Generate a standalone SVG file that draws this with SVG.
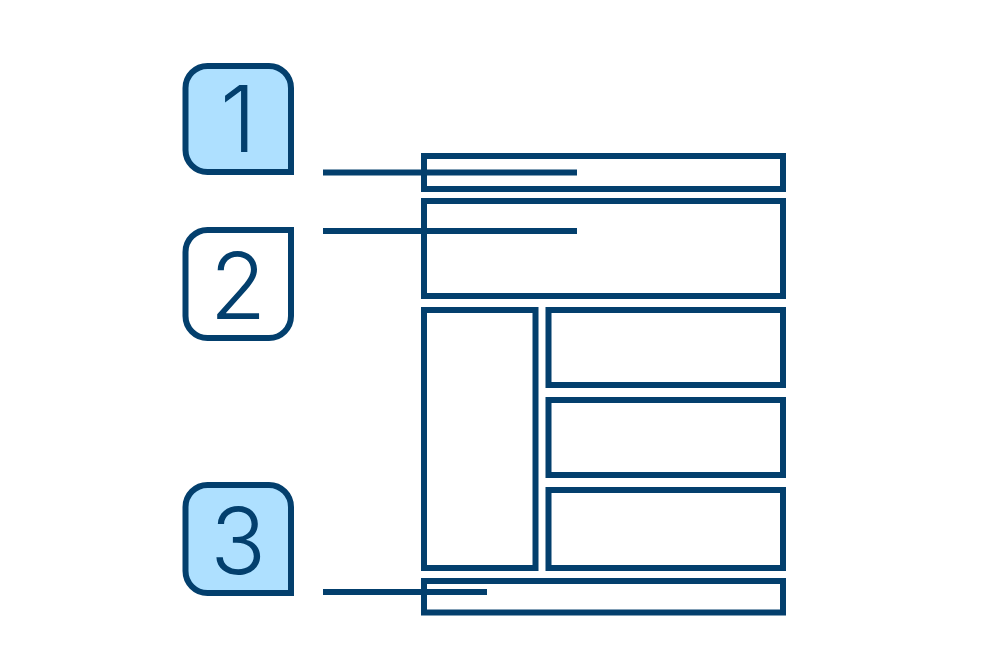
<svg xmlns="http://www.w3.org/2000/svg" width="1000" height="650" viewBox="0 0 1000 650">
<style>
.s{fill:none;stroke:#033f6d;stroke-width:6}
.b{stroke:#033f6d;stroke-width:6}
.f{fill:#aee0ff}
.w{fill:#ffffff}
.d{font-family:"Inter","Open Sans","Liberation Sans",sans-serif;font-weight:300;font-size:92px;fill:#033f6d;text-anchor:middle}
</style>
<rect width="1000" height="650" fill="#ffffff"/>
<g id="badge1">
<path class="b f" d="M207.5 66H269A22 22 0 0 1 291 88V172H207.5A22 22 0 0 1 185.5 150V88A22 22 0 0 1 207.5 66Z"/>
<text class="d" x="238" y="152">1</text>
</g>
<g id="badge2">
<path class="b w" d="M207.5 230H291V316A22 22 0 0 1 269 338H207.5A22 22 0 0 1 185.5 316V252A22 22 0 0 1 207.5 230Z"/>
<text class="d" x="238" y="319">2</text>
</g>
<g id="badge3">
<path class="b f" d="M207.5 485H269A22 22 0 0 1 291 507V593H207.5A22 22 0 0 1 185.5 571V507A22 22 0 0 1 207.5 485Z"/>
<text class="d" x="238" y="574">3</text>
</g>
<g id="header"><rect class="s" x="424" y="156" width="359" height="33"/></g>
<g id="banner"><rect class="s" x="424" y="201" width="359" height="95"/></g>
<g id="sidebar"><rect class="s" x="424" y="310" width="111.5" height="258"/></g>
<g id="content1"><rect class="s" x="548.5" y="310" width="234.5" height="75"/></g>
<g id="content2"><rect class="s" x="548.5" y="400" width="234.5" height="75"/></g>
<g id="content3"><rect class="s" x="548.5" y="490" width="234.5" height="78"/></g>
<g id="footer"><rect class="s" x="424" y="581" width="359" height="31.5"/></g>
<g id="connectors">
<line class="s" x1="323" y1="172.5" x2="577" y2="172.5"/>
<line class="s" x1="323" y1="231" x2="577" y2="231"/>
<line class="s" x1="323" y1="592" x2="487" y2="592"/>
</g>
</svg>
